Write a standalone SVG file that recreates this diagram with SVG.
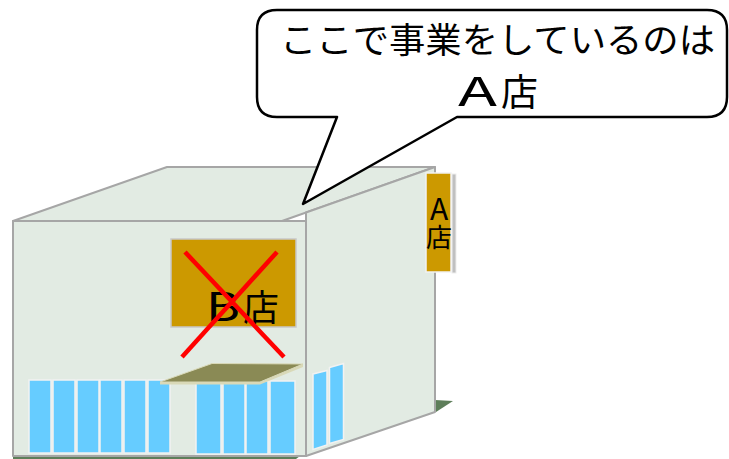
<svg xmlns="http://www.w3.org/2000/svg" width="729" height="459" viewBox="0 0 729 459">
  <style>
    .face { fill: #E2EBE3; stroke: #A6A6A6; stroke-width: 2; stroke-linejoin: round; }
    .glass { fill: #66CCFF; stroke: #F2F2F2; stroke-width: 1.5; }
    .ground { fill: #5E7E5A; }
    .sign { fill: #CC9900; stroke: #C8C8C8; stroke-width: 1.5; }
    .jp { font-family: "Noto Sans CJK JP", "Noto Sans", sans-serif; fill: #000; }
    .vert { writing-mode: vertical-rl; text-orientation: upright; }
    .cross { stroke: #FF0000; stroke-width: 4.5; stroke-linecap: butt; }
  </style>

  <rect width="729" height="459" fill="#FFFFFF"/>

  <!-- Building -->
  <g id="building">
    <polygon class="ground" points="13,456 300,456 296,459 13,459"/>
    <polygon class="ground" points="435,400 453,401 436,412"/>
    <polygon class="face" points="13,221 167,167 435,167 282,221"/>
    <polygon class="face" points="306,212.5 435,167 435,412 306,456"/>
    <rect class="face" x="13" y="221" width="293" height="235"/>
  </g>

  <!-- Front windows -->
  <g id="front-windows">
    <rect class="glass" x="29" y="380" width="22" height="73"/>
    <rect class="glass" x="53" y="380" width="22" height="73"/>
    <rect class="glass" x="77" y="380" width="22" height="73"/>
    <rect class="glass" x="100" y="380" width="22" height="73"/>
    <rect class="glass" x="124" y="380" width="22" height="73"/>
    <rect class="glass" x="148" y="380" width="22" height="73"/>
    <rect class="glass" x="196" y="381" width="25" height="73"/>
    <rect class="glass" x="223" y="381" width="22" height="73"/>
    <rect class="glass" x="246" y="381" width="22" height="73"/>
    <rect class="glass" x="270" y="381" width="25" height="73"/>
  </g>

  <!-- Side windows -->
  <g id="side-windows">
    <polygon class="glass" points="313,374 327,370.5 327,445 313,449.5"/>
    <polygon class="glass" points="329.5,367.5 343.5,363.5 343.5,439.5 329.5,443.5"/>
  </g>

  <!-- Awning over entrance -->
  <g id="awning">
    <polygon points="160,382 260,382 260,384.5 160,384.5" fill="#D9D9B8"/>
    <polygon points="260,382 303,364 303,367 260,384.5" fill="#D9D9B8"/>
    <polygon points="160,382 212,363.5 303,364 260,382" fill="#8A8A55" stroke="#D9D9B8" stroke-width="1"/>
  </g>

  <!-- Old sign (crossed out) -->
  <g id="sign-b">
    <rect class="sign" x="171" y="239" width="125" height="88"/>
    <text class="jp" y="321"><tspan x="206" font-size="40" textLength="34" lengthAdjust="spacingAndGlyphs">B</tspan><tspan x="243" font-size="36">店</tspan></text>
    <line class="cross" x1="185" y1="252" x2="284" y2="357"/>
    <line class="cross" x1="277" y1="252" x2="182" y2="357"/>
  </g>

  <!-- Side sign, written top to bottom -->
  <g id="sign-a">
    <rect x="452" y="174" width="4" height="99" fill="#C0C0C0" stroke="#EDEDED" stroke-width="1"/>
    <rect x="426" y="173" width="25" height="99" fill="#CC9900" stroke="#F2F2F2" stroke-width="1.5"/>
    <text class="jp vert" x="439" y="194"><tspan font-size="30">A</tspan><tspan font-size="26">店</tspan></text>
  </g>

  <!-- Speech bubble -->
  <g id="callout">
    <path d="M277,10 H707 Q727,10 727,30 V97 Q727,117 707,117 H457 L303,204 L337,117 H277 Q257,117 257,97 V30 Q257,10 277,10 Z"
          fill="#FFFFFF" stroke="#000000" stroke-width="2.5" stroke-linejoin="round"/>
    <text class="jp" x="497.5" y="53" font-size="35" text-anchor="middle" textLength="435" lengthAdjust="spacingAndGlyphs">ここで事業をしているのは</text>
    <text class="jp" y="106"><tspan x="458" font-size="40" textLength="39" lengthAdjust="spacingAndGlyphs">A</tspan><tspan x="501" font-size="37">店</tspan></text>
  </g>
</svg>
